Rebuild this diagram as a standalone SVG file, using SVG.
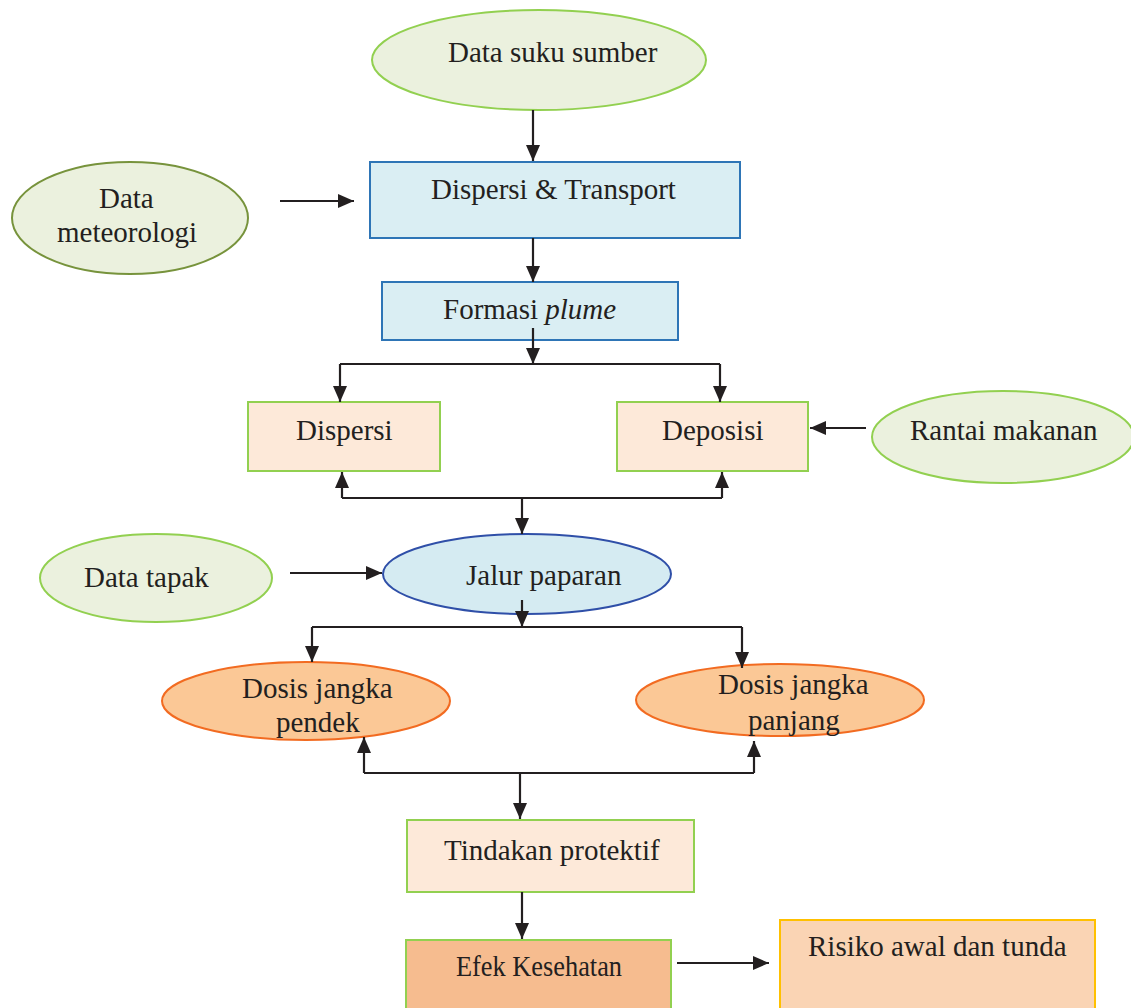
<svg xmlns="http://www.w3.org/2000/svg" width="1131" height="1008" viewBox="0 0 1131 1008">
<style>
text{font-family:"Liberation Serif","Times New Roman",serif;font-size:29px;fill:#231f20}
.eg{fill:#ebf1de;stroke:#92d050;stroke-width:2}
.egd{fill:#ebf1de;stroke:#77933c;stroke-width:2}
.rb{fill:#daeef3;stroke:#2e75b6;stroke-width:2}
.rp{fill:#fde9d9;stroke:#92d050;stroke-width:2}
.eo{fill:#fbc896;stroke:#f26b21;stroke-width:2}
.c{fill:none;stroke:#231f20;stroke-width:2.2}
</style>
<defs>
<marker id="ah" markerUnits="userSpaceOnUse" markerWidth="16" markerHeight="14" refX="16" refY="7" orient="auto">
<path d="M0,0 L16,7 L0,14 z" fill="#231f20"/>
</marker>
</defs>
<rect width="1131" height="1008" fill="#ffffff"/>

<g id="n-suku"><ellipse class="eg" cx="539" cy="60" rx="167" ry="50"/><text x="448" y="62">Data suku sumber</text></g>
<g id="n-meteo"><ellipse class="egd" cx="130" cy="218" rx="118" ry="56"/><text x="99" y="208">Data</text><text x="57" y="242">meteorologi</text></g>
<g id="n-transport"><rect class="rb" x="370" y="162" width="370" height="76"/><text x="431" y="199">Dispersi &amp; Transport</text></g>
<g id="n-plume"><rect class="rb" x="382" y="282" width="296" height="58"/><text x="443" y="319">Formasi <tspan font-style="italic">plume</tspan></text></g>
<g id="n-dispersi"><rect class="rp" x="248" y="402" width="192" height="69"/><text x="296" y="440">Dispersi</text></g>
<g id="n-deposisi"><rect class="rp" x="617" y="402" width="191" height="69"/><text x="662" y="440">Deposisi</text></g>
<g id="n-rantai"><ellipse class="eg" cx="1003" cy="437" rx="131" ry="46"/><text x="910" y="440">Rantai makanan</text></g>
<g id="n-tapak"><ellipse class="eg" cx="156" cy="578" rx="116" ry="44"/><text x="84" y="587">Data tapak</text></g>
<g id="n-jalur"><ellipse cx="527" cy="574" rx="144" ry="40" fill="#d5ebf2" stroke="#2f4fa8" stroke-width="2"/><text x="466" y="585">Jalur paparan</text></g>
<g id="n-pendek"><ellipse class="eo" cx="306" cy="701" rx="144" ry="39"/><text x="242" y="698">Dosis jangka</text><text x="276" y="732">pendek</text></g>
<g id="n-panjang"><ellipse class="eo" cx="780" cy="700" rx="144" ry="36"/><text x="718" y="694">Dosis jangka</text><text x="748" y="730">panjang</text></g>
<g id="n-tindakan"><rect class="rp" x="407" y="820" width="287" height="72"/><text x="444" y="860">Tindakan protektif</text></g>
<g id="n-efek"><rect x="406" y="940" width="265" height="80" fill="#f6bc8f" stroke="#92d050" stroke-width="2"/><text x="456" y="976" textLength="166" lengthAdjust="spacingAndGlyphs">Efek Kesehatan</text></g>
<g id="n-risiko"><rect x="780" y="920" width="315" height="100" fill="#fad4b4" stroke="#ffc000" stroke-width="2"/><text x="808" y="956">Risiko awal dan tunda</text></g>

<g id="connectors">
<path class="c" d="M533,110 V161" marker-end="url(#ah)"/>
<path class="c" d="M280,201 H354" marker-end="url(#ah)"/>
<path class="c" d="M533,238 V282" marker-end="url(#ah)"/>
<path class="c" d="M533,328 V364" marker-end="url(#ah)"/>
<path class="c" d="M340,364 H720"/>
<path class="c" d="M340,364 V402" marker-end="url(#ah)"/>
<path class="c" d="M720,364 V402" marker-end="url(#ah)"/>
<path class="c" d="M866,428 H810" marker-end="url(#ah)"/>
<path class="c" d="M342,498 H722"/>
<path class="c" d="M342,498 V472" marker-end="url(#ah)"/>
<path class="c" d="M722,498 V472" marker-end="url(#ah)"/>
<path class="c" d="M522,498 V534" marker-end="url(#ah)"/>
<path class="c" d="M290,573 H382" marker-end="url(#ah)"/>
<path class="c" d="M522,600 V627" marker-end="url(#ah)"/>
<path class="c" d="M312,627 H742"/>
<path class="c" d="M312,627 V662" marker-end="url(#ah)"/>
<path class="c" d="M742,627 V668" marker-end="url(#ah)"/>
<path class="c" d="M364,773 H754"/>
<path class="c" d="M364,773 V737" marker-end="url(#ah)"/>
<path class="c" d="M754,773 V741" marker-end="url(#ah)"/>
<path class="c" d="M520,773 V819" marker-end="url(#ah)"/>
<path class="c" d="M522,892 V939" marker-end="url(#ah)"/>
<path class="c" d="M677,963 H769" marker-end="url(#ah)"/>
</g>
</svg>
